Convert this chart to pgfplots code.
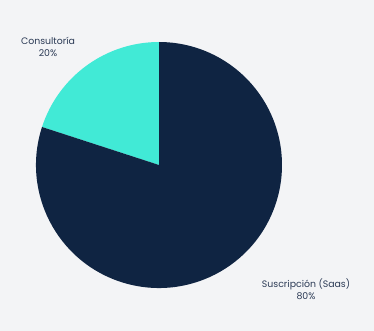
\documentclass[border=0pt]{standalone}
\usepackage{pgfplots}
\pgfplotsset{compat=1.18}
\usepackage{fontspec}
\setmainfont{Poppins}
\definecolor{bg}{HTML}{F3F4F6}
\definecolor{navy}{HTML}{0F2442}
\definecolor{turq}{HTML}{41EAD6}
\definecolor{txt}{HTML}{2B3A55}
\begin{document}
\begin{tikzpicture}
\def\valA{80}% Suscripcion (Saas)
\def\valB{20}% Consultoria
\begin{axis}[
  scale only axis, width=374bp, height=331bp,
  xmin=0, xmax=374, ymin=0, ymax=331,
  hide axis, clip=false,
]
\fill[bg] (axis cs:0,0) rectangle (axis cs:374,331);
\pgfmathsetmacro{\angB}{90+3.6*\valB}
\pgfmathsetmacro{\angA}{\angB+3.6*\valA}
% Consultoria wedge: 90 -> 90+72
\fill[turq] (axis cs:159,166) -- ++(90:123bp) arc[start angle=90, end angle=\angB, radius=123bp] -- cycle;
% Suscripcion wedge
\fill[navy] (axis cs:159,166) -- ++(\angB:123bp) arc[start angle=\angB, end angle=\angA, radius=123bp] -- cycle;
\node[txt, font=\fontsize{9.4}{12}\selectfont, align=center] at (axis cs:48,284) {Consultoría\\20\%};
\node[txt, font=\fontsize{9.4}{12}\selectfont, align=center] at (axis cs:306,42) {Suscripción (Saas)\\80\%};
\end{axis}
\end{tikzpicture}
\end{document}
